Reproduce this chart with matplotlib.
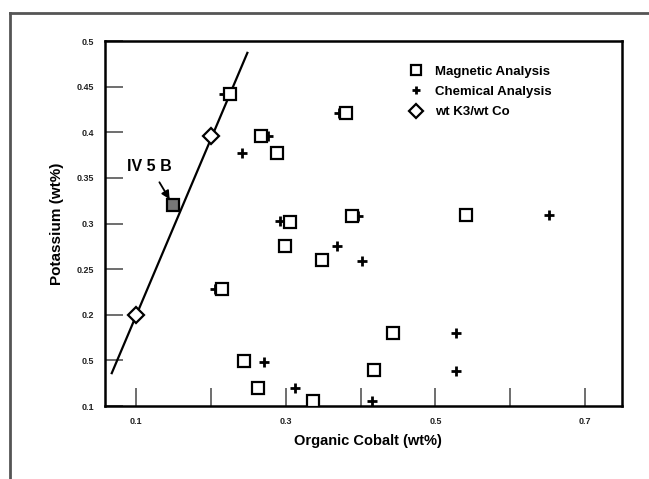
import numpy as np
import matplotlib.pyplot as plt
from matplotlib.lines import Line2D

# Magnetic analysis (open squares)
mag_co = [0.226, 0.267, 0.289, 0.380, 0.306, 0.388, 0.541, 0.299, 0.349,
          0.215, 0.444, 0.245, 0.418, 0.263, 0.336]
mag_k = [0.442, 0.396, 0.377, 0.421, 0.302, 0.308, 0.309, 0.275, 0.260,
         0.228, 0.180, 0.149, 0.139, 0.120, 0.106]

# sample IV 5 B
iv5b_co = [0.150]
iv5b_k = [0.320]

# Chemical analysis (crosses)
chem_co = [0.218, 0.277, 0.242, 0.371, 0.292, 0.397, 0.652, 0.369, 0.402,
           0.206, 0.527, 0.527, 0.271, 0.313, 0.415]
chem_k = [0.442, 0.396, 0.377, 0.421, 0.303, 0.308, 0.309, 0.275, 0.259,
          0.228, 0.180, 0.138, 0.148, 0.120, 0.106]

# wt K3 / wt Co (diamonds) and the line through them
ratio_co = [0.10, 0.20]
ratio_k = [0.200, 0.396]
line_co = [0.068, 0.249]
line_k = [0.136, 0.487]

x_ticks = [0.1, 0.2, 0.3, 0.4, 0.5, 0.6, 0.7]
x_labels = ['0.1', '', '0.3', '', '0.5', '', '0.7']
y_ticks = [0.1, 0.15, 0.2, 0.25, 0.3, 0.35, 0.4, 0.45, 0.5]
y_labels = ['0.1', '0.5', '0.2', '0.25', '0.3', '0.35', '0.4', '0.45', '0.5']

plt.rcParams['font.family'] = ['Liberation Sans', 'DejaVu Sans']
plt.rcParams['font.weight'] = 'bold'

fig = plt.figure(figsize=(6.49, 4.79), dpi=100)
ax = fig.add_axes([0.1618, 0.1524, 0.7966, 0.762])

# outer frame (top and left edges only)
fig.add_artist(Line2D([0.0154, 1.0], [0.9729, 0.9729], color='#555555', lw=2))
fig.add_artist(Line2D([0.0154, 0.0154], [0.0, 0.9729], color='#555555', lw=2))

ax.plot(line_co, line_k, color='black', lw=1.6, zorder=2)
ax.plot(chem_co, chem_k, linestyle='none', marker='+', ms=7, mew=2,
        color='black', zorder=3, label='Chemical Analysis')
ax.plot(mag_co, mag_k, linestyle='none', marker='s', ms=8, mew=1.6,
        mfc='white', mec='black', zorder=4, label='Magnetic Analysis')
ax.plot(iv5b_co, iv5b_k, linestyle='none', marker='s', ms=8, mew=1.6,
        mfc='#777777', mec='black', zorder=4)
ax.plot(ratio_co, ratio_k, linestyle='none', marker='D', ms=8, mew=1.6,
        mfc='white', mec='black', zorder=5, label='wt K3/wt Co')

ax.annotate('IV 5 B', xy=(iv5b_co[0], iv5b_k[0]), xytext=(0.1186, 0.363),
            ha='center', va='center', fontsize=11.5, fontweight='bold',
            arrowprops=dict(arrowstyle='-|>', color='black', lw=1.3,
                            shrinkA=5, shrinkB=5, mutation_scale=12))

ax.set_xlim(0.059, 0.749)
ax.set_ylim(0.1, 0.5)
ax.set_xticks(x_ticks)
ax.set_xticklabels(x_labels)
ax.set_yticks(y_ticks)
ax.set_yticklabels(y_labels)
ax.tick_params(direction='in', length=13, width=1.2, color='#555555',
               labelsize=6.5, labelcolor='#222222', pad=8)
for s in ax.spines.values():
    s.set_linewidth(1.8)

ax.set_xlabel('Organic Cobalt (wt%)', fontsize=10.5, fontweight='bold')
ax.xaxis.set_label_coords(0.509, -0.077)
ax.set_ylabel('Potassium (wt%)', fontsize=11, fontweight='bold')
ax.yaxis.set_label_coords(-0.079, 0.5)

h, l = ax.get_legend_handles_labels()
order = [1, 0, 2]
ax.legend([h[i] for i in order], [l[i] for i in order], loc='upper left',
          bbox_to_anchor=(0.565, 0.965), frameon=False,
          handlelength=1.0, handletextpad=1.0, labelspacing=0.6,
          markerscale=0.9, prop={'weight': 'bold', 'size': 9.5})

fig.savefig('out.png', dpi=100)
